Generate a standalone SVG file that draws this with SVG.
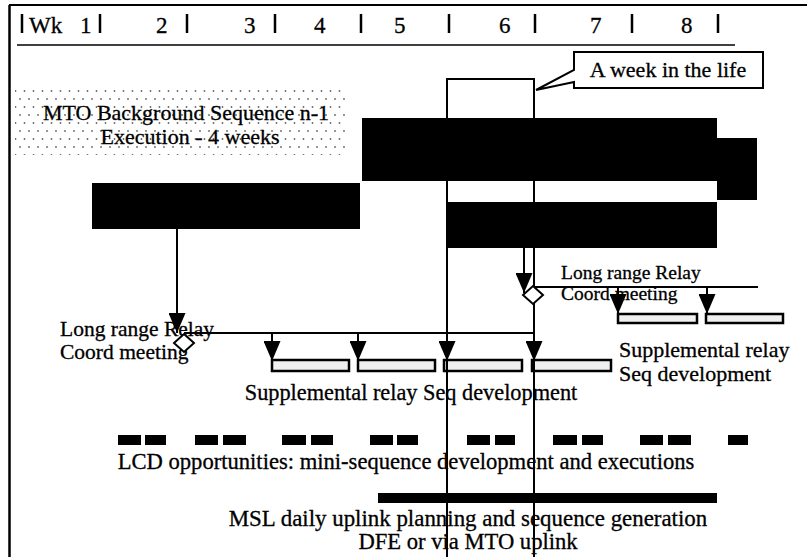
<svg xmlns="http://www.w3.org/2000/svg" width="807" height="557" viewBox="0 0 807 557">
<style>
text{font-family:"Liberation Serif","Times New Roman",serif;fill:#000;stroke:#000;stroke-width:0.3}
.ln{stroke:#000;stroke-width:2;fill:none}
.tk{stroke:#000;stroke-width:2.5}
.blk{fill:#000}
.sup{fill:#f0f0f0;stroke:#000;stroke-width:2.5}
.dia{fill:#fff;stroke:#000;stroke-width:2}
.dash{fill:#000}
</style>
<defs>
<pattern id="dots" width="9" height="16" patternUnits="userSpaceOnUse">
<rect width="9" height="16" fill="#fff"/>
<circle cx="2" cy="3" r="0.9" fill="#666"/>
<circle cx="6.5" cy="11" r="0.9" fill="#666"/>
</pattern>
<marker id="ah" viewBox="0 0 20 17" markerWidth="20" markerHeight="17" refX="20" refY="8.5" orient="auto" markerUnits="userSpaceOnUse">
<path d="M0,0 L20,8.5 L0,17 z" fill="#000"/>
</marker>
</defs>
<rect width="807" height="557" fill="#fff"/>

<g id="frame">
<line class="tk" x1="9.5" y1="5" x2="9.5" y2="557"/>
<line class="ln" x1="9" y1="5" x2="807" y2="5"/>
</g>

<g id="timeline">
<line x1="17" y1="45" x2="735" y2="45" stroke="#000" stroke-width="1.5"/>
<g class="tk">
<line x1="22" y1="14" x2="22" y2="33"/><line x1="100" y1="14" x2="100" y2="33"/>
<line x1="187" y1="14" x2="187" y2="33"/><line x1="275" y1="14" x2="275" y2="33"/>
<line x1="361" y1="14" x2="361" y2="33"/><line x1="449" y1="14" x2="449" y2="33"/>
<line x1="535" y1="14" x2="535" y2="33"/><line x1="632" y1="14" x2="632" y2="33"/>
<line x1="718" y1="14" x2="718" y2="33"/>
</g>
<g font-size="23">
<text x="29" y="33">Wk</text><text x="80" y="33">1</text>
<text x="156" y="33">2</text><text x="244" y="33">3</text>
<text x="314" y="33">4</text><text x="394" y="33">5</text>
<text x="499" y="33">6</text><text x="590" y="33">7</text>
<text x="681" y="33">8</text>
</g>
</g>

<g id="mto-background">
<rect x="15" y="90" width="332" height="65" fill="url(#dots)"/>
<text x="186" y="120" font-size="22" text-anchor="middle">MTO Background Sequence n-1</text>
<text x="190" y="144" font-size="22" text-anchor="middle">Execution - 4 weeks</text>
</g>

<g id="week-box">
<rect x="447" y="79" width="87" height="45" fill="#fff" stroke="#000" stroke-width="2"/>
</g>

<g id="callout">
<path d="M574,70 L574,52 L763,52 L763,88 L574,88 L574,82 L536,90 Z" fill="#fff" stroke="#000" stroke-width="2" stroke-linejoin="miter"/>
<text x="668" y="77" font-size="22" text-anchor="middle">A week in the life</text>
</g>

<g id="bar-mto-exec">
<rect class="blk" x="362" y="118" width="355" height="63"/>
<rect class="blk" x="717" y="138" width="40" height="62"/>
</g>
<g id="bar-left">
<rect class="blk" x="92" y="183" width="268" height="46"/>
</g>
<g id="bar-right">
<rect class="blk" x="447" y="202" width="270" height="46"/>
</g>

<g id="meeting-left">
<text x="60" y="336" font-size="21.5">Long range Relay</text>
<text x="60" y="359" font-size="21.5">Coord meeting</text>
</g>
<g id="meeting-right">
<text x="561" y="279" font-size="19.5">Long range Relay</text>
<text x="561" y="300" font-size="19.5">Coord meeting</text>
</g>

<g id="supp-bars-lower">
<rect class="sup" x="272" y="360" width="77" height="11"/>
<rect class="sup" x="358" y="360" width="77" height="11"/>
<rect class="sup" x="444" y="360" width="78" height="11"/>
<rect class="sup" x="532" y="360" width="79" height="11"/>
</g>
<g id="supp-bars-upper">
<rect class="sup" x="618" y="314" width="79" height="9"/>
<rect class="sup" x="706" y="314" width="77" height="9"/>
</g>

<g id="supp-labels">
<text x="411" y="400" font-size="22.3" text-anchor="middle">Supplemental relay Seq development</text>
<text x="619" y="357" font-size="22">Supplemental relay</text>
<text x="619" y="381" font-size="22">Seq development</text>
</g>

<g id="lcd">
<rect class="dash" x="118" y="435" width="23" height="10"/><rect class="dash" x="145" y="435" width="21" height="10"/>
<rect class="dash" x="195" y="435" width="23" height="10"/><rect class="dash" x="223" y="435" width="23" height="10"/>
<rect class="dash" x="282" y="435" width="24" height="10"/><rect class="dash" x="311" y="435" width="22" height="10"/>
<rect class="dash" x="370" y="435" width="23" height="10"/><rect class="dash" x="397" y="435" width="21" height="10"/>
<rect class="dash" x="467" y="435" width="23" height="10"/><rect class="dash" x="495" y="435" width="20" height="10"/>
<rect class="dash" x="553" y="435" width="24" height="10"/><rect class="dash" x="582" y="435" width="21" height="10"/>
<rect class="dash" x="640" y="435" width="23" height="10"/><rect class="dash" x="668" y="435" width="23" height="10"/>
<rect class="dash" x="728" y="435" width="20" height="10"/>
<text x="406" y="469" font-size="22.6" text-anchor="middle">LCD opportunities: mini-sequence development and executions</text>
</g>

<g id="msl">
<rect class="blk" x="378" y="493" width="339" height="10"/>
<text x="468" y="526" font-size="22.9" text-anchor="middle">MSL daily uplink planning and sequence generation</text>
<text x="468" y="549" font-size="22.6" text-anchor="middle">DFE or via MTO uplink</text>
</g>

<g id="connectors">
<line class="ln" x1="447" y1="124" x2="447" y2="557"/>
<line class="ln" x1="534" y1="124" x2="534" y2="557"/>
<line class="ln" x1="177" y1="229" x2="177" y2="333" marker-end="url(#ah)"/>
<line class="ln" x1="184" y1="333" x2="534" y2="333"/>
<line class="ln" x1="272" y1="333" x2="272" y2="361" marker-end="url(#ah)"/>
<line class="ln" x1="358" y1="333" x2="358" y2="361" marker-end="url(#ah)"/>
<line class="ln" x1="447" y1="333" x2="447" y2="361" marker-end="url(#ah)"/>
<line class="ln" x1="534" y1="333" x2="534" y2="361" marker-end="url(#ah)"/>
<line class="ln" x1="524" y1="248" x2="524" y2="293" marker-end="url(#ah)"/>
<line class="ln" x1="534" y1="287" x2="758" y2="287"/>
<line class="ln" x1="618" y1="287" x2="618" y2="314" marker-end="url(#ah)"/>
<line class="ln" x1="707" y1="287" x2="707" y2="314" marker-end="url(#ah)"/>
<polygon class="dia" points="184,334 194,343 184,352 174,343"/>
<polygon class="dia" points="533,286 543,295 533,304 523,295"/>
</g>
</svg>
